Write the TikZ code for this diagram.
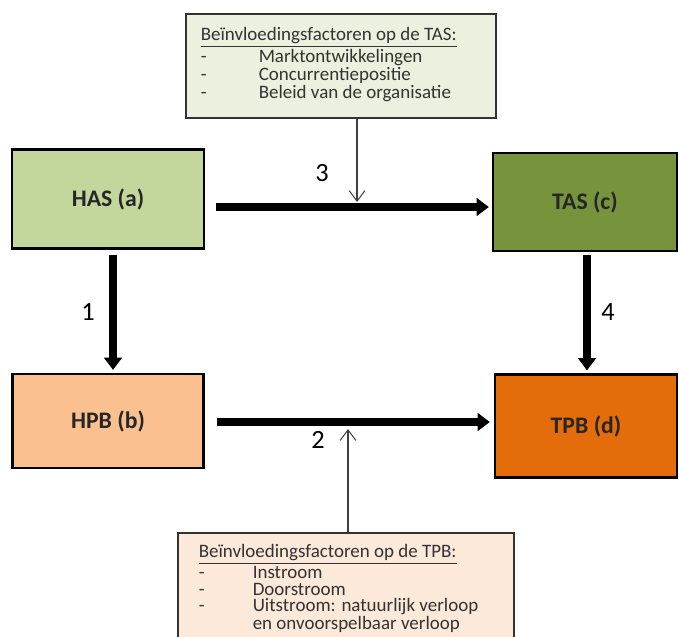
\documentclass[tikz,border=0pt]{standalone}
\usepackage{fontspec}
\setmainfont{Carlito}
\usetikzlibrary{arrows.meta,calc}
\definecolor{haskleur}{HTML}{C3D69B}
\definecolor{taskleur}{HTML}{77933C}
\definecolor{hpbkleur}{HTML}{FAC090}
\definecolor{tpbkleur}{HTML}{E46C0A}
\definecolor{tasfactor}{HTML}{EBF1DE}
\definecolor{tpbfactor}{HTML}{FDE9D9}
\newcommand{\factitem}[2][1.16cm]{\makebox[#1][l]{-}#2}

\begin{document}
\begin{tikzpicture}[x=0.02cm,y=-0.02cm,
  blok/.style={draw,line width=1.3pt,font=\bfseries\fontsize{13.5}{15}\selectfont,text=black!85},
  factor/.style={draw=black!80,line width=0.9pt,inner sep=0pt,font=\fontsize{10.8}{10.2}\selectfont,text=black!80},
  dikpijl/.style={line width=4.2pt,-{Triangle[length=7pt,width=10pt]}},
  dunpijl/.style={line width=0.6pt,black!75,-{Straight Barb[length=6pt,width=9pt]}},
  nummer/.style={font=\fontsize{15}{17}\selectfont}]
\clip (0,0) rectangle (679,636);
\fill[white] (0,0) rectangle (679,636);
% de vier blokken
\node[blok,fill=haskleur,minimum width=3.84cm,minimum height=1.98cm] (has) at (108,199) {HAS (a)};
\node[blok,fill=taskleur,minimum width=3.68cm,minimum height=1.96cm] (tas) at (585,202) {TAS (c)};
\node[blok,fill=hpbkleur,minimum width=3.82cm,minimum height=1.88cm] (hpb) at (108,421) {HPB (b)};
\node[blok,fill=tpbkleur,minimum width=3.64cm,minimum height=2.06cm] (tpb) at (586,426) {TPB (d)};
% factoren
\node[factor,fill=tasfactor,anchor=north west] (tasfac) at (185,13) {%
  \hspace{0.3cm}\parbox[t][2.08cm][t]{5.9cm}{\vspace{0.28cm}%
  \underline{Beïnvloedingsfactoren op de TAS:}\\
  \factitem{Marktontwikkelingen}\\
  \factitem{Concurrentiepositie}\\
  \factitem{Beleid van de organisatie}}};
\node[factor,fill=tpbfactor,anchor=north west,font=\fontsize{10.8}{9.3}\selectfont] (tpbfac) at (177,532) {%
  \hspace{0.42cm}\parbox[t][2.6cm][t]{6.3cm}{\vspace{0.24cm}%
  \underline{Beïnvloedingsfactoren op de TPB:}\\
  \factitem[1.08cm]{Instroom}\\
  \factitem[1.08cm]{Doorstroom}\\
  \factitem[1.08cm]{Uitstroom: natuurlijk verloop}\\
  \hspace*{1.08cm}en onvoorspelbaar verloop}};
% pijlen
\coordinate (a3) at ($(has.east)+(11,8)$);
\coordinate (a2) at ($(hpb.east)+(12,1)$);
\draw[dikpijl] (a3) -- ($(a3 -| tas.west)+(-3,0)$);
\draw[dikpijl] (a2) -- ($(a2 -| tpb.west)+(-4,0)$);
\draw[dikpijl] ($(has.south)+(5,5)$) -- ($(hpb.north)+(5,-3)$);
\draw[dikpijl] ($(tas.south)+(2,3)$) -- ($(tpb.north)+(1,-3)$);
\coordinate (f3) at (357,202);
\coordinate (f2) at (348,429);
\draw[dunpijl] (tasfac.south -| f3) -- (f3);
\draw[dunpijl] (tpbfac.north -| f2) -- (f2);
% nummers
\node[nummer] (n3) at (322,173) {3};
\node[nummer] (n2) at (318,440) {2};
\node[nummer] (n1) at (88,312) {1};
\node[nummer] (n4) at (608,312) {4};
\end{tikzpicture}
\end{document}
